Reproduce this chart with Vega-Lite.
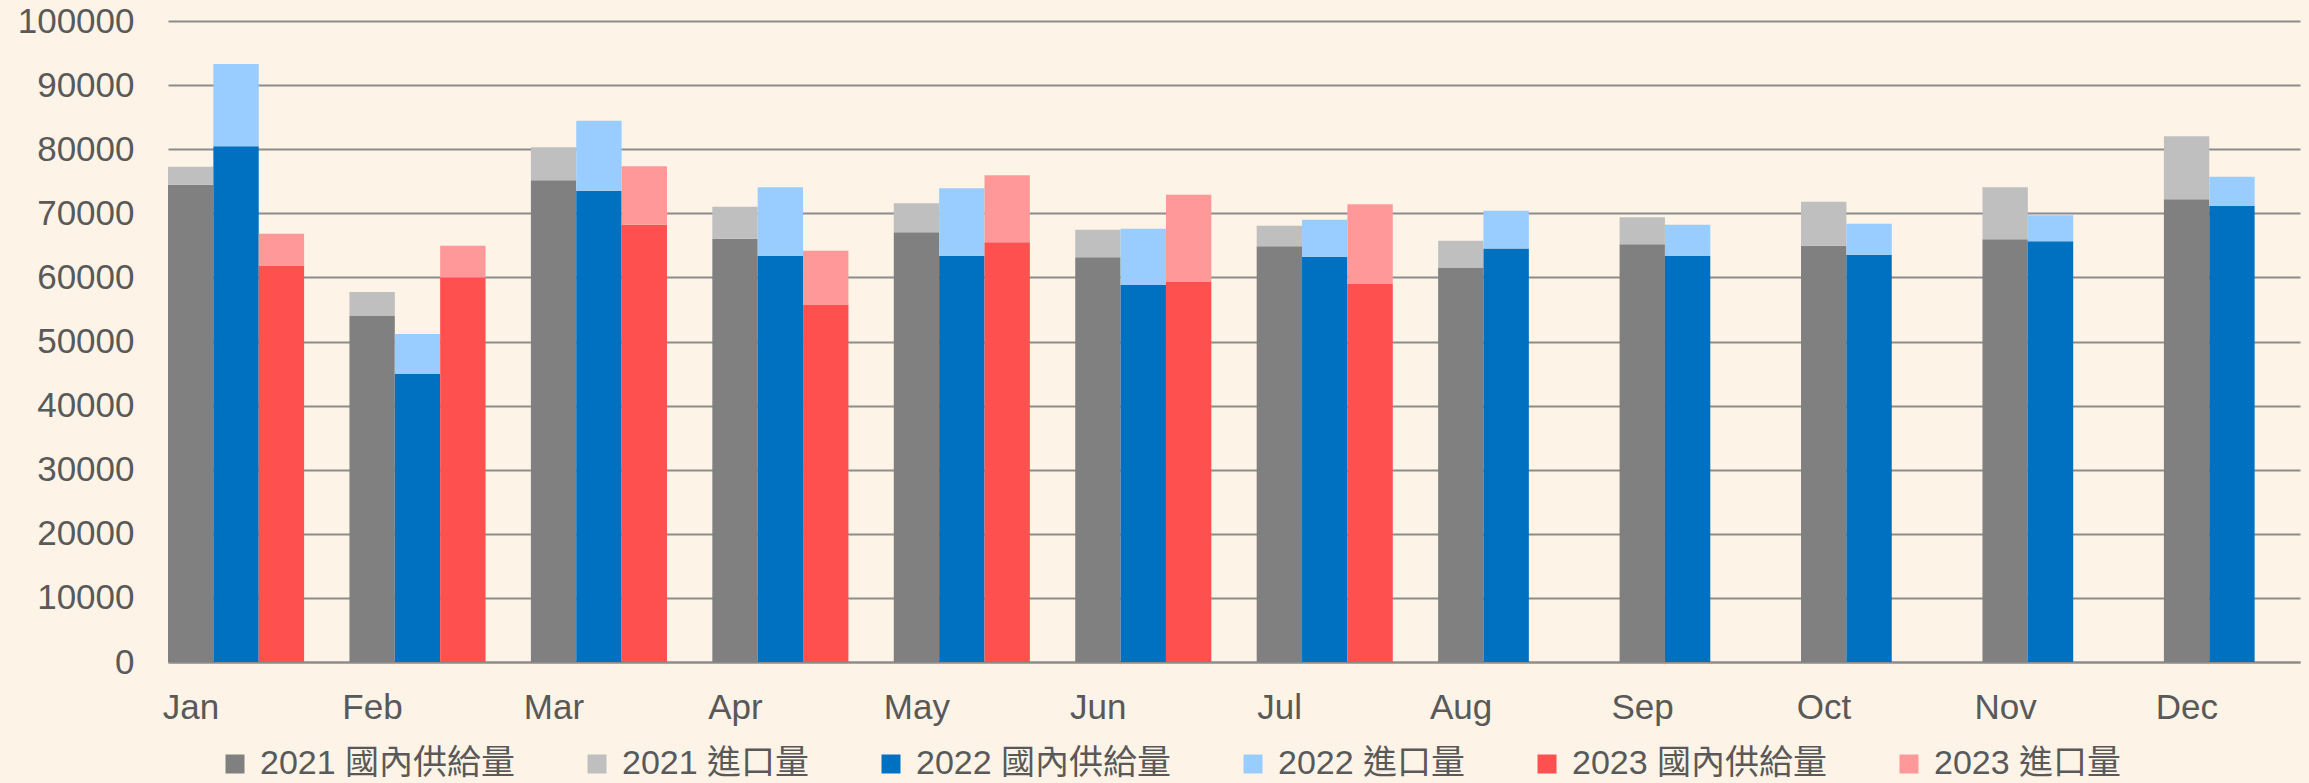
{
 "$schema": "https://vega.github.io/schema/vega-lite/v6.json",
 "width": 2132, "height": 641,
 "autosize": {"type": "none"},
 "padding": {"left": 168, "top": 21, "right": 9, "bottom": 121},
 "background": "#FDF3E7",
 "config": {"view": {"stroke": null}, "font": "Liberation Sans, Noto Sans CJK TC"},
 "data": {"values": [
  {"month":"Jan","year":"2021","series":"2021 國內供給量","value":74450},
  {"month":"Jan","year":"2021","series":"2021 進口量","value":2800},
  {"month":"Feb","year":"2021","series":"2021 國內供給量","value":54050},
  {"month":"Feb","year":"2021","series":"2021 進口量","value":3660},
  {"month":"Mar","year":"2021","series":"2021 國內供給量","value":75150},
  {"month":"Mar","year":"2021","series":"2021 進口量","value":5140},
  {"month":"Apr","year":"2021","series":"2021 國內供給量","value":66040},
  {"month":"Apr","year":"2021","series":"2021 進口量","value":4990},
  {"month":"May","year":"2021","series":"2021 國內供給量","value":67060},
  {"month":"May","year":"2021","series":"2021 進口量","value":4520},
  {"month":"Jun","year":"2021","series":"2021 國內供給量","value":63160},
  {"month":"Jun","year":"2021","series":"2021 進口量","value":4280},
  {"month":"Jul","year":"2021","series":"2021 國內供給量","value":64870},
  {"month":"Jul","year":"2021","series":"2021 進口量","value":3190},
  {"month":"Aug","year":"2021","series":"2021 國內供給量","value":61530},
  {"month":"Aug","year":"2021","series":"2021 進口量","value":4200},
  {"month":"Sep","year":"2021","series":"2021 國內供給量","value":65190},
  {"month":"Sep","year":"2021","series":"2021 進口量","value":4200},
  {"month":"Oct","year":"2021","series":"2021 國內供給量","value":64950},
  {"month":"Oct","year":"2021","series":"2021 進口量","value":6850},
  {"month":"Nov","year":"2021","series":"2021 國內供給量","value":65960},
  {"month":"Nov","year":"2021","series":"2021 進口量","value":8100},
  {"month":"Dec","year":"2021","series":"2021 國內供給量","value":72200},
  {"month":"Dec","year":"2021","series":"2021 進口量","value":9810},
  {"month":"Jan","year":"2022","series":"2022 國內供給量","value":80450},
  {"month":"Jan","year":"2022","series":"2022 進口量","value":12850},
  {"month":"Feb","year":"2022","series":"2022 國內供給量","value":44940},
  {"month":"Feb","year":"2022","series":"2022 進口量","value":6230},
  {"month":"Mar","year":"2022","series":"2022 國內供給量","value":73520},
  {"month":"Mar","year":"2022","series":"2022 進口量","value":10900},
  {"month":"Apr","year":"2022","series":"2022 國內供給量","value":63390},
  {"month":"Apr","year":"2022","series":"2022 進口量","value":10670},
  {"month":"May","year":"2022","series":"2022 國內供給量","value":63390},
  {"month":"May","year":"2022","series":"2022 進口量","value":10510},
  {"month":"Jun","year":"2022","series":"2022 國內供給量","value":58800},
  {"month":"Jun","year":"2022","series":"2022 進口量","value":8800},
  {"month":"Jul","year":"2022","series":"2022 國內供給量","value":63240},
  {"month":"Jul","year":"2022","series":"2022 進口量","value":5760},
  {"month":"Aug","year":"2022","series":"2022 國內供給量","value":64490},
  {"month":"Aug","year":"2022","series":"2022 進口量","value":5920},
  {"month":"Sep","year":"2022","series":"2022 國內供給量","value":63390},
  {"month":"Sep","year":"2022","series":"2022 進口量","value":4830},
  {"month":"Oct","year":"2022","series":"2022 國內供給量","value":63550},
  {"month":"Oct","year":"2022","series":"2022 進口量","value":4830},
  {"month":"Nov","year":"2022","series":"2022 國內供給量","value":65650},
  {"month":"Nov","year":"2022","series":"2022 進口量","value":4050},
  {"month":"Dec","year":"2022","series":"2022 國內供給量","value":71180},
  {"month":"Dec","year":"2022","series":"2022 進口量","value":4520},
  {"month":"Jan","year":"2023","series":"2023 國內供給量","value":61840},
  {"month":"Jan","year":"2023","series":"2023 進口量","value":4980},
  {"month":"Feb","year":"2023","series":"2023 國內供給量","value":59970},
  {"month":"Feb","year":"2023","series":"2023 進口量","value":4980},
  {"month":"Mar","year":"2023","series":"2023 國內供給量","value":68220},
  {"month":"Mar","year":"2023","series":"2023 進口量","value":9110},
  {"month":"Apr","year":"2023","series":"2023 國內供給量","value":55680},
  {"month":"Apr","year":"2023","series":"2023 進口量","value":8490},
  {"month":"May","year":"2023","series":"2023 國內供給量","value":65500},
  {"month":"May","year":"2023","series":"2023 進口量","value":10440},
  {"month":"Jun","year":"2023","series":"2023 國內供給量","value":59270},
  {"month":"Jun","year":"2023","series":"2023 進口量","value":13630},
  {"month":"Jul","year":"2023","series":"2023 國內供給量","value":58960},
  {"month":"Jul","year":"2023","series":"2023 進口量","value":12460}
 ]},
 "mark": {"type": "bar"},
 "encoding": {
  "x": {"field": "month", "type": "nominal",
        "sort": ["Jan","Feb","Mar","Apr","May","Jun","Jul","Aug","Sep","Oct","Nov","Dec"],
        "scale": {"paddingInner": 0.25, "paddingOuter": 0},
        "axis": {"title": null, "labelAngle": 0, "labelFontSize": 35, "labelColor": "#595959", "labelPadding": 28, "labelOffset": -45, "ticks": false, "domain": true, "domainColor": "#8C8C8C", "domainWidth": 2, "grid": false}},
  "xOffset": {"field": "year", "type": "nominal", "sort": ["2021","2022","2023"],
        "scale": {"paddingInner": 0, "paddingOuter": 0}},
  "y": {"field": "value", "type": "quantitative", "stack": "zero",
        "scale": {"domain": [0, 100000], "nice": false},
        "axis": {"title": null, "values": [0,10000,20000,30000,40000,50000,60000,70000,80000,90000,100000], "format": "d", "labelFontSize": 35, "labelColor": "#595959", "labelPadding": 34, "ticks": false, "domain": false, "gridColor": "#8C8C8C", "gridWidth": 2}},
  "color": {"field": "series", "type": "nominal",
        "scale": {"domain": ["2021 國內供給量","2021 進口量","2022 國內供給量","2022 進口量","2023 國內供給量","2023 進口量"],
                  "range": ["#808080","#BFBFBF","#0070C0","#99CCFF","#FF5050","#FF9999"]},
        "legend": {"title": null, "orient": "none", "legendX": 50, "legendY": 726, "direction": "horizontal", "symbolType": "square", "symbolSize": 361, "symbolStrokeWidth": 0, "symbolOpacity": 1, "labelFontSize": 34, "labelColor": "#595959", "labelOffset": 8, "columnPadding": 64, "labelLimit": 500}},
  "order": {"field": "series", "sort": "ascending"}
 }
}
